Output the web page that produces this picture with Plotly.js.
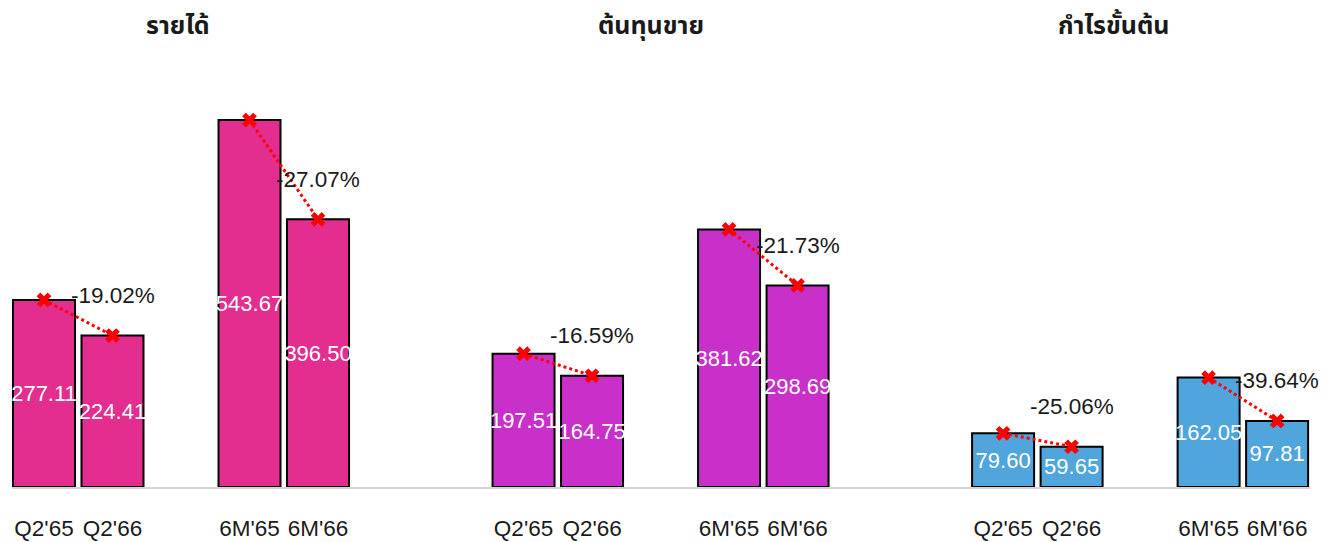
<!DOCTYPE html>
<html>
<head>
<meta charset="utf-8">
<script src="https://cdn.plot.ly/plotly-3.0.1.min.js"></script>
<style>html,body{margin:0;padding:0;background:#fff;}#chart{width:1334px;height:542px;}</style>
</head>
<body>
<div id="chart"></div>
<script>
// ---- data ----
const groups = ["รายได้", "ต้นทุนขาย", "กำไรขั้นต้น"];
const periods = ["Q2'65", "Q2'66", "6M'65", "6M'66"];
const revenue = [277.11, 224.41, 543.67, 396.50];
const cogs = [197.51, 164.75, 381.62, 298.69];
const grossProfit = [79.60, 59.65, 162.05, 97.81];
const changeLabels = [["-19.02%", "-27.07%"], ["-16.59%", "-21.73%"], ["-25.06%", "-39.64%"]];
const groupColors = ["#E32D8F", "#C830C9", "#4FA5DC"];

const series = [revenue, cogs, grossProfit];

// slot index: each group takes 7 slots, each pair 3 slots
function slot(g, i) { return g * 7 + Math.floor(i / 2) * 3 + (i % 2); }

const traces = [];
const tickvals = [], ticktext = [];
const annotations = [];
const lx = [], ly = [];

series.forEach((vals, g) => {
  const xs = vals.map((v, i) => slot(g, i));
  xs.forEach((x, i) => { tickvals.push(x); ticktext.push(periods[i]); });
  traces.push({
    type: 'bar',
    x: xs,
    y: vals,
    width: 0.905,
    marker: { color: groupColors[g], line: { color: '#000', width: 2 } },
    text: vals.map(v => v.toFixed(2)),
    textposition: 'inside',
    insidetextanchor: 'middle',
    textangle: 0,
    constraintext: 'none',
    cliponaxis: false,
    textfont: { family: 'Liberation Sans, Arial, sans-serif', size: 22, color: '#ffffff' },
    hoverinfo: 'skip'
  });
  for (let p = 0; p < 2; p++) {
    lx.push(xs[2 * p], xs[2 * p + 1], null);
    ly.push(vals[2 * p], vals[2 * p + 1], null);
    annotations.push({
      xref: 'x', yref: 'y', x: xs[2 * p + 1], y: vals[2 * p + 1],
      yshift: 40, showarrow: false, text: changeLabels[g][p],
      font: { family: 'Liberation Sans, Arial, sans-serif', size: 22.5, color: '#1a1a1a' }
    });
  }
});

traces.push({
  type: 'scatter', mode: 'lines+markers', x: lx, y: ly,
  connectgaps: false,
  line: { color: '#ff0000', width: 3, dash: 'dot', shape: 'spline', smoothing: 0.6 },
  marker: { symbol: 'x', size: 13, color: '#ff0000' },
  hoverinfo: 'skip'
});

const titleX = [1.957, 8.86, 15.61];
groups.forEach((t, g) => {
  annotations.push({
    xref: 'x', yref: 'paper', x: titleX[g], y: 1.08, yanchor: 'middle',
    showarrow: false, text: '<b>' + t + '</b>',
    font: { family: 'Tahoma, Noto Sans Thai, Loma, sans-serif', size: 25, color: '#1a1a1a' }
  });
});

const layout = {
  width: 1334, height: 542,
  margin: { l: 12, r: 24, t: 60, b: 55 },
  paper_bgcolor: '#fff', plot_bgcolor: '#fff',
  showlegend: false,
  barmode: 'overlay',
  xaxis: {
    range: [-0.467, 18.48], tickvals: tickvals, ticktext: ticktext,
    showgrid: false, zeroline: false, showline: true, linecolor: '#d4d4d4', linewidth: 2,
    ticks: 'outside', ticklen: 20, tickcolor: 'rgba(0,0,0,0)',
    tickfont: { family: 'Liberation Sans, Arial, sans-serif', size: 22.5, color: '#1a1a1a' },
    fixedrange: true
  },
  yaxis: { range: [0, 632.6], visible: false, fixedrange: true },
  annotations: annotations
};

Plotly.newPlot('chart', traces, layout, { displayModeBar: false, staticPlot: true });
</script>
</body>
</html>
